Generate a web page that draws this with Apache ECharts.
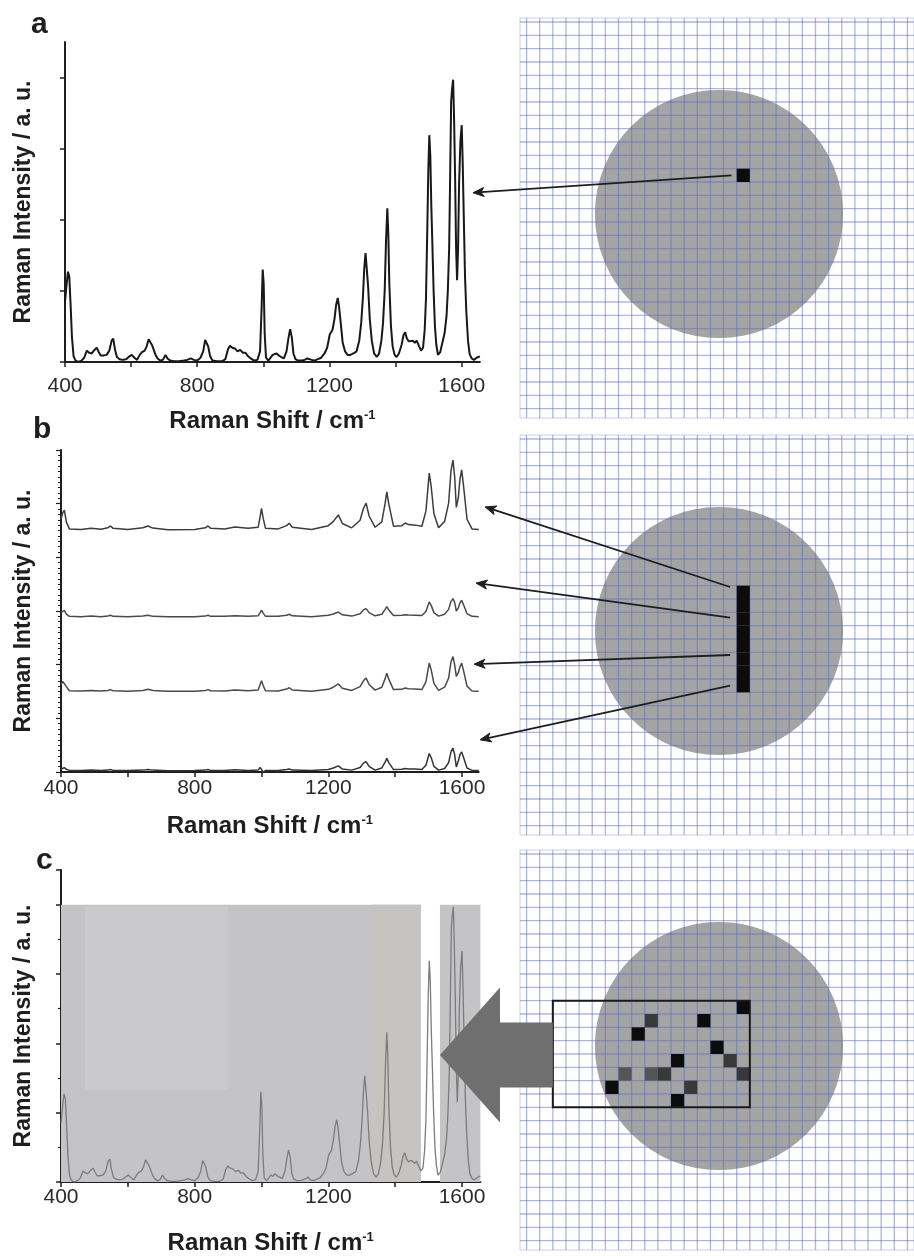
<!DOCTYPE html>
<html><head><meta charset="utf-8">
<script src="https://cdn.jsdelivr.net/npm/echarts@6/dist/echarts.min.js"></script>
<style>html,body{margin:0;padding:0;background:#fff}#main{width:914px;height:1256px}</style>
</head><body><div id="main"></div>
<script>
// ---------- DATA ----------
// Panel a / c spectrum: [Raman shift (cm-1), intensity (a.u.)]
const spectrumA = [
[400,0.85],[405,1.1],[409,1.27],[413,1.2],[417,0.8],[421,0.35],[426,0.08],[432,0.02],[440,0.0],[450,0.02],
[458,0.06],[466,0.16],[473,0.13],[481,0.12],[489,0.17],[496,0.2],[502,0.14],[508,0.09],[516,0.09],[526,0.1],
[534,0.16],[541,0.3],[546,0.33],[551,0.18],[557,0.07],[565,0.04],[575,0.03],[585,0.04],[595,0.08],[602,0.1],
[610,0.06],[618,0.03],[626,0.1],[633,0.14],[641,0.16],[647,0.22],[653,0.32],[658,0.33],[663,0.24],[668,0.22],
[674,0.1],[680,0.05],[688,0.02],[696,0.03],[704,0.1],[710,0.05],[718,0.02],[730,0.01],[745,0.01],[760,0.02],
[770,0.03],[780,0.05],[790,0.03],[800,0.02],[810,0.06],[818,0.15],[824,0.31],[828,0.33],[833,0.22],[839,0.08],
[846,0.02],[860,0.01],[875,0.01],[885,0.04],[893,0.18],[899,0.23],[906,0.2],[914,0.19],[922,0.15],[930,0.17],
[938,0.13],[946,0.13],[954,0.08],[962,0.05],[972,0.02],[982,0.03],[990,0.15],[995,0.8],[998,1.3],[1001,1.1],
[1004,0.4],[1008,0.06],[1015,0.02],[1022,0.06],[1028,0.1],[1034,0.08],[1040,0.12],[1047,0.09],[1054,0.07],[1062,0.05],
[1070,0.15],[1076,0.34],[1081,0.46],[1086,0.35],[1091,0.12],[1097,0.04],[1105,0.02],[1115,0.02],[1125,0.03],[1133,0.05],
[1139,0.07],[1146,0.03],[1155,0.02],[1165,0.04],[1175,0.06],[1185,0.12],[1193,0.2],[1201,0.39],[1209,0.45],[1215,0.6],
[1220,0.8],[1225,0.9],[1229,0.78],[1234,0.55],[1240,0.27],[1247,0.15],[1255,0.1],[1263,0.1],[1272,0.12],[1282,0.15],
[1290,0.3],[1296,0.55],[1301,0.9],[1305,1.3],[1309,1.53],[1313,1.3],[1317,1.05],[1322,0.6],[1328,0.3],[1335,0.12],
[1343,0.07],[1350,0.12],[1357,0.3],[1362,0.55],[1367,1.0],[1371,1.7],[1375,2.16],[1378,1.8],[1381,1.1],[1386,0.5],
[1391,0.22],[1397,0.1],[1403,0.07],[1410,0.12],[1418,0.24],[1424,0.38],[1429,0.42],[1434,0.33],[1440,0.29],[1446,0.31],
[1452,0.3],[1458,0.27],[1464,0.3],[1471,0.22],[1477,0.16],[1483,0.2],[1488,0.45],[1492,0.9],[1496,1.9],[1499,2.7],
[1502,3.19],[1505,2.9],[1508,2.2],[1511,1.7],[1515,1.0],[1519,0.5],[1523,0.25],[1528,0.1],[1535,0.14],[1542,0.28],
[1548,0.4],[1554,0.64],[1558,1.0],[1562,1.6],[1565,2.6],[1568,3.66],[1571,3.85],[1574,3.97],[1577,3.4],[1580,2.6],
[1583,1.6],[1586,1.15],[1589,1.6],[1592,2.5],[1596,3.1],[1600,3.33],[1603,2.8],[1606,2.1],[1610,1.2],[1614,0.7],
[1619,0.3],[1624,0.11],[1630,0.05],[1637,0.03],[1645,0.06],[1651,0.08],[1655,0.08]
];

// Panel b: four spectra along the line scan (shift axis + heights + vertical offsets)
const shiftB = [400,405,410,416,425,460,490,520,540,548,556,600,645,660,675,720,800,832,840,848,
890,920,960,990,996,1000,1005,1012,1050,1075,1083,1092,1150,1200,1215,1230,1242,1270,1295,1305,
1313,1322,1340,1360,1370,1375,1381,1395,1420,1430,1440,1460,1480,1492,1502,1508,1516,1530,1548,1560,
1567,1573,1578,1583,1589,1594,1599,1605,1615,1630,1650];
const spectrumB1 = [2.0,3.2,3.7,1.5,0.2,0.1,0.3,0.15,0.4,0.75,0.3,0.1,0.4,0.75,0.35,0.05,0.1,0.4,0.75,0.3,
0.2,0.55,0.3,0.5,2.5,4.0,2.2,0.3,0.2,0.8,1.25,0.5,0.1,0.8,1.6,2.8,1.2,0.4,1.8,4.0,
5.0,2.6,0.5,1.5,5.0,7.1,4.8,0.7,0.8,1.3,1.0,0.9,0.7,3.5,10.6,8.0,3.0,0.4,1.6,5.0,
11.0,13.0,10.0,4.2,6.0,9.5,11.2,8.0,2.0,0.2,0.1];
const spectrumB2 = [0.8,1.1,1.2,0.5,0.1,0.05,0.15,0.05,0.15,0.3,0.1,0.05,0.15,0.3,0.1,0.02,0.05,0.15,0.3,0.1,
0.1,0.2,0.1,0.2,0.8,1.25,0.7,0.1,0.1,0.3,0.5,0.2,0.05,0.3,0.55,0.9,0.4,0.15,0.6,1.3,
1.55,0.8,0.2,0.5,1.4,1.9,1.3,0.25,0.3,0.4,0.35,0.3,0.25,1.0,2.8,2.1,0.8,0.15,0.5,1.4,
2.9,3.4,2.7,1.1,1.7,2.6,3.1,2.2,0.6,0.1,0.05];
const spectrumB3 = [1.2,1.9,2.2,0.9,0.15,0.1,0.2,0.1,0.2,0.35,0.15,0.05,0.2,0.4,0.2,0.03,0.05,0.2,0.35,0.15,
0.1,0.3,0.15,0.3,1.3,2.0,1.1,0.15,0.1,0.45,0.7,0.3,0.05,0.4,0.8,1.4,0.6,0.2,0.9,2.0,
2.5,1.3,0.25,0.8,2.4,3.4,2.3,0.35,0.4,0.65,0.5,0.45,0.35,1.8,5.3,4.0,1.5,0.2,0.8,2.5,
5.5,6.5,5.0,2.8,3.5,4.6,5.3,3.8,1.0,0.1,0.05];
const spectrumB4 = [0.3,0.45,0.55,0.25,0.05,0.05,0.1,0.05,0.1,0.2,0.05,0.05,0.1,0.2,0.1,0.0,0.05,0.1,0.2,0.05,
0.05,0.15,0.05,0.1,0.6,0.9,-0.3,0.05,0.05,0.2,0.3,0.1,0.05,0.2,0.5,0.9,0.3,0.1,0.6,1.4,
1.7,0.8,0.1,0.5,1.6,2.3,1.5,0.2,0.25,0.4,0.3,0.3,0.2,1.0,3.2,2.4,0.8,0.1,0.4,1.5,
3.5,4.2,3.0,0.7,1.8,3.0,3.5,2.4,0.5,0.05,0.05];
const offsetsB = [45.1, 28.9, 15.0, 0.25];

// Panel c: shaded spectral windows [x0, y0, x1, y1]
const shadeC = [[400,0,1477,4.0],[1534,0,1655,4.0],[472,1.33,900,3.97],[1331,0,1477,4.0]];

// Axis ticks / labels
const xTicks = [400,600,800,1000,1200,1400,1600];
const xLabels = [400,800,1200,1600];
const yTicksA = [0,1,2,3,4];

// Maps (grid cell units): grid lines, sample spot [cx, cy, r], measured cells [col, row, level]
const mapLines = [0,1,2,3,4,5,6,7,8,9,10,11,12,13,14,15,16,17,18,19,20,21,22,23,24,25,26,27,28,29];
const spot = [[14.65, 14.4, 9.45]];
const cellsA = [[16,11,0]];
const cellsB = [[16,11,0],[16,12,0],[16,13,0],[16,14,0],[16,15,0],[16,16,0],[16,17,0],[16,18,0]];
const cellsC = [[16,11,0],[9,12,1],[13,12,0],[8,13,0],[14,14,0],[11,15,0],[15,15,1],[7,16,2],
                [9,16,2],[10,16,1],[16,16,1],[6,17,0],[12,17,1],[11,18,0]];
const areaC = [[2,11,17,19]];

// Arrows: from map coords to spectrum coords
const arrowsA = [{from:[15.6,11.5], to:[1634,2.38]}];
const arrowsB = [{from:[15.5,11.1], to:[1669,49.4]}, {from:[15.5,13.4], to:[1642,35.2]},
                 {from:[15.5,16.2], to:[1636,20.1]}, {from:[15.5,18.5], to:[1654,6.0]}];
const bigArrowC = {tip:[1534,1.83], tail:[2,15.2]};

// ---------- STYLE / LAYOUT ----------
const FONT = '"Liberation Sans", Arial, Helvetica, sans-serif';
const INK = '#1e1e1e';
const MAP_X = [-0.5, 29.5], MAP_Y = [-0.3, 29.7];
const cellColors = ['#0c0c0c', '#393939', '#555555'];
const shadeColors = ['#c4c4c6', '#c4c4c6', '#cacacc', '#c5c4c2'];

const chart = echarts.init(document.getElementById('main'), null, {renderer: 'canvas'});

function xTitle() {
  return {
    name: '{t|Raman Shift / cm}{s|-1}', nameLocation: 'middle',
    nameTextStyle: {rich: {
      t: {fontSize: 24, fontWeight: 'bold', fontFamily: FONT, color: INK},
      s: {fontSize: 13, fontWeight: 'bold', fontFamily: FONT, color: INK, verticalAlign: 'top'}
    }}
  };
}
function specX(grid, max, margin, gap) {
  return Object.assign({
    type: 'value', gridIndex: grid, min: 400, max: max,
    axisLine: {show: true, onZero: false, lineStyle: {color: INK, width: 2}},
    axisTick: {show: true, customValues: xTicks, length: 5, lineStyle: {color: INK, width: 1.5}},
    axisLabel: {show: true, customValues: xLabels, margin: margin, fontSize: 21, color: '#2a2a2a', fontFamily: FONT,
                formatter: v => String(v)},
    splitLine: {show: false}, nameGap: gap
  }, xTitle());
}
function specY(grid, extra) {
  return Object.assign({
    type: 'value', gridIndex: grid, min: 0,
    axisLine: {show: true, onZero: false, lineStyle: {color: INK, width: 2}},
    axisLabel: {show: false}, splitLine: {show: false},
    name: 'Raman Intensity / a. u.', nameLocation: 'middle',
    nameTextStyle: {fontSize: 23, fontWeight: 'bold', fontFamily: FONT, color: INK}
  }, extra);
}
function mapAxisX(grid) { return {type: 'value', gridIndex: grid, min: MAP_X[0], max: MAP_X[1], show: false}; }
function mapAxisY(grid) { return {type: 'value', gridIndex: grid, min: MAP_Y[0], max: MAP_Y[1], inverse: true, show: false}; }

function spotSeries(axis) {
  return {type: 'custom', xAxisIndex: axis, yAxisIndex: axis, z: 1, data: spot,
    renderItem: (p, api) => {
      const c = api.coord([api.value(0), api.value(1)]);
      const r = api.size([api.value(2), 0])[0];
      return {type: 'circle', shape: {cx: c[0], cy: c[1], r: r}, style: {fill: '#a4a4a4'}};
    }};
}
function gridSeries(axis) {
  return {type: 'custom', xAxisIndex: axis, yAxisIndex: axis, z: 2, data: mapLines.map(k => [k, k]),
    renderItem: (p, api) => {
      const k = api.value(0);
      const a = api.coord([k, MAP_Y[0]]), b = api.coord([k, MAP_Y[1]]);
      const c = api.coord([MAP_X[0], k]), d = api.coord([MAP_X[1], k]);
      const st = {stroke: 'rgba(95,110,190,0.5)', lineWidth: 1.3};
      return {type: 'group', children: [
        {type: 'line', shape: {x1: a[0], y1: a[1], x2: b[0], y2: b[1]}, style: st},
        {type: 'line', shape: {x1: c[0], y1: c[1], x2: d[0], y2: d[1]}, style: st}
      ]};
    }};
}
function cellSeries(axis, cells) {
  return {type: 'custom', xAxisIndex: axis, yAxisIndex: axis, z: 3, data: cells,
    renderItem: (p, api) => {
      const c = api.coord([api.value(0), api.value(1)]);
      const s = api.size([1, 1]);
      return {type: 'rect', shape: {x: c[0], y: c[1], width: s[0], height: s[1]},
        style: {fill: cellColors[api.value(2)]}};
    }};
}

const lineB = (arr, off) => shiftB.map((x, i) => [x, arr[i] + off]);

const option = {
  animation: false,
  backgroundColor: '#ffffff',
  title: [
    {text: 'a', left: 26, top: 5, textStyle: {fontSize: 30, fontWeight: 'bold', fontFamily: FONT, color: INK}},
    {text: 'b', left: 28, top: 410, textStyle: {fontSize: 30, fontWeight: 'bold', fontFamily: FONT, color: INK}},
    {text: 'c', left: 31, top: 841, textStyle: {fontSize: 30, fontWeight: 'bold', fontFamily: FONT, color: INK}}
  ],
  grid: [
    {left: 65, top: 42, width: 414.9, height: 320},
    {left: 61, top: 450, width: 417.7, height: 322},
    {left: 61, top: 870, width: 419.4, height: 315},
    {left: 520, top: 18, width: 400, height: 400, show: true, backgroundColor: '#fff', borderColor: '#c9cfe8', borderWidth: 1},
    {left: 520, top: 435, width: 400, height: 400, show: true, backgroundColor: '#fff', borderColor: '#c9cfe8', borderWidth: 1},
    {left: 520, top: 850, width: 400, height: 400, show: true, backgroundColor: '#fff', borderColor: '#c9cfe8', borderWidth: 1}
  ],
  xAxis: [specX(0, 1655, 14, 47), specX(1, 1650, 6, 42), specX(2, 1655, 5, 49), mapAxisX(3), mapAxisX(4), mapAxisX(5)],
  yAxis: [
    specY(0, {max: 4.5, nameGap: 30, axisTick: {show: true, customValues: yTicksA, length: 5, lineStyle: {color: INK, width: 1.5}}}),
    specY(1, {max: 60, interval: 10, nameGap: 26, axisTick: {show: true, length: 5, lineStyle: {color: INK, width: 1.2}},
              minorTick: {show: true, splitNumber: 10, length: 3, lineStyle: {color: INK, width: 1}}}),
    specY(2, {max: 4.5, interval: 1, nameGap: 26, axisTick: {show: true, length: 5, lineStyle: {color: INK, width: 1.5}},
              minorTick: {show: true, splitNumber: 2, length: 3, lineStyle: {color: INK, width: 1.2}}}),
    mapAxisY(3), mapAxisY(4), mapAxisY(5)
  ],
  series: [
    {type: 'line', xAxisIndex: 0, yAxisIndex: 0, data: spectrumA, showSymbol: false, z: 3,
     lineStyle: {color: '#181818', width: 2}},
    {type: 'line', xAxisIndex: 1, yAxisIndex: 1, data: lineB(spectrumB1, offsetsB[0]), showSymbol: false, lineStyle: {color: '#3c3c3c', width: 1.5}},
    {type: 'line', xAxisIndex: 1, yAxisIndex: 1, data: lineB(spectrumB2, offsetsB[1]), showSymbol: false, lineStyle: {color: '#4a4a4a', width: 1.5}},
    {type: 'line', xAxisIndex: 1, yAxisIndex: 1, data: lineB(spectrumB3, offsetsB[2]), showSymbol: false, lineStyle: {color: '#4a4a4a', width: 1.5}},
    {type: 'line', xAxisIndex: 1, yAxisIndex: 1, data: lineB(spectrumB4, offsetsB[3]), showSymbol: false, lineStyle: {color: '#333333', width: 1.5}},
    {type: 'custom', xAxisIndex: 2, yAxisIndex: 2, z: 1, data: shadeC.map((r, i) => r.concat([i])),
     renderItem: (p, api) => {
       const a = api.coord([api.value(0), api.value(3)]);
       const b = api.coord([api.value(2), api.value(1)]);
       return {type: 'rect', shape: {x: a[0], y: a[1], width: b[0] - a[0], height: b[1] - a[1]},
         style: {fill: shadeColors[api.value(4)]}};
     }},
    {type: 'line', xAxisIndex: 2, yAxisIndex: 2, data: spectrumA, showSymbol: false, z: 3,
     lineStyle: {color: '#7c7c7c', width: 1.3}},
    spotSeries(3), spotSeries(4), spotSeries(5),
    gridSeries(3), gridSeries(4), gridSeries(5),
    cellSeries(3, cellsA), cellSeries(4, cellsB), cellSeries(5, cellsC),
    {type: 'custom', xAxisIndex: 5, yAxisIndex: 5, z: 4, data: areaC,
     renderItem: (p, api) => {
       const a = api.coord([api.value(0), api.value(1)]);
       const b = api.coord([api.value(2), api.value(3)]);
       return {type: 'rect', shape: {x: a[0], y: a[1], width: b[0] - a[0], height: b[1] - a[1]},
         style: {fill: null, stroke: '#1a1a1a', lineWidth: 2}};
     }}
  ]
};
chart.setOption(option);

// ---------- arrows (positions converted through the axes) ----------
function arrowEls(p0, p1) {
  const dx = p1[0] - p0[0], dy = p1[1] - p0[1];
  const L = Math.hypot(dx, dy), ux = dx / L, uy = dy / L;
  const head = 11, half = 4.5;
  const bx = p1[0] - ux * head, by = p1[1] - uy * head;
  return [
    {type: 'line', z: 100, shape: {x1: p0[0], y1: p0[1], x2: bx + ux * 3, y2: by + uy * 3}, style: {stroke: INK, lineWidth: 1.8}},
    {type: 'polygon', z: 100, shape: {points: [[p1[0], p1[1]], [bx - uy * half, by + ux * half], [bx + ux * 3, by + uy * 3], [bx + uy * half, by - ux * half]]},
     style: {fill: INK, stroke: INK, lineWidth: 1}}
  ];
}
const g = [];
arrowsA.forEach(a => g.push(...arrowEls(chart.convertToPixel({gridIndex: 3}, a.from), chart.convertToPixel({gridIndex: 0}, a.to))));
arrowsB.forEach(a => g.push(...arrowEls(chart.convertToPixel({gridIndex: 4}, a.from), chart.convertToPixel({gridIndex: 1}, a.to))));
(function () {
  const t = chart.convertToPixel({gridIndex: 2}, bigArrowC.tip);
  const e = chart.convertToPixel({gridIndex: 5}, bigArrowC.tail);
  const hl = 60, hw = 67.5, sw = 32.5;
  g.push({type: 'polygon', z: 90, shape: {points: [
    [t[0], t[1]], [t[0] + hl, t[1] - hw], [t[0] + hl, t[1] - sw], [e[0], t[1] - sw],
    [e[0], t[1] + sw], [t[0] + hl, t[1] + sw], [t[0] + hl, t[1] + hw]
  ]}, style: {fill: '#6f6f6f'}});
})();
chart.setOption({graphic: g});
</script>
</body></html>
